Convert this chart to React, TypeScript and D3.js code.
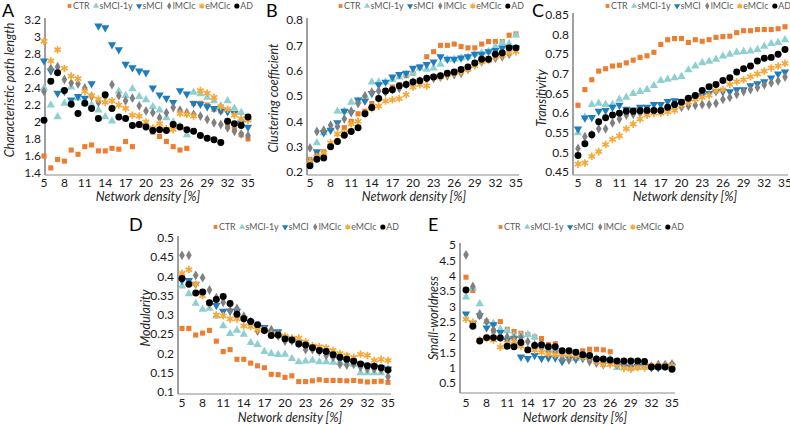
import React, { useEffect, useRef } from 'react';
import * as d3 from 'd3';

// groups, in legend / draw order (AD ends up on top)
const groups = ['CTR', 'sMCI-1y', 'sMCI', 'lMCIc', 'eMCIc', 'AD'];
const groupColors = ['#ED7D31', '#8ED0CF', '#1F7DBB', '#808080', '#F5A93A', '#000000'];

const densities = [5, 6, 7, 8, 9, 10, 11, 12, 13, 14, 15, 16, 17, 18, 19, 20, 21, 22, 23, 24, 25, 26, 27, 28, 29, 30, 31, 32, 33, 34, 35];
const densityTicks = [5, 8, 11, 14, 17, 20, 23, 26, 29, 32, 35];

// A - characteristic path length (one row per group)
const pathLength = [
  [1.60, 1.46, 1.56, 1.54, 1.67, 1.62, 1.71, 1.73, 1.66, 1.66, 1.69, 1.68, 1.77, 1.71, 1.96, 1.95, 1.88, 1.83, 1.77, 1.71, 1.67, 1.69, 2.22, 2.22, 2.20, 2.15, 2.13, 1.95, 1.91, 1.85, 1.80],
  [2.40, 2.20, 2.06, 2.22, 2.41, 2.28, 2.22, 2.20, 2.14, 2.06, 2.01, 2.36, 2.31, 2.39, 2.30, 2.26, 2.18, 2.14, 2.05, 2.00, 1.95, 1.85, 2.35, 2.33, 2.29, 2.25, 2.19, 2.25, 2.16, 2.11, 2.05],
  [2.72, 2.60, 2.34, 2.36, 2.26, 2.30, 2.28, 2.45, 3.13, 3.11, 2.91, 2.85, 2.68, 2.64, 2.60, 2.58, 2.40, 2.32, 2.28, 2.23, 2.37, 2.33, 2.22, 2.21, 2.18, 2.16, 2.13, 2.12, 2.10, 1.99, 1.94],
  [2.36, 2.63, 2.65, 2.50, 2.46, 2.45, 2.40, 2.30, 2.23, 2.30, 2.44, 2.31, 2.25, 2.28, 2.19, 2.13, 2.11, 2.05, 2.11, 2.17, 2.14, 2.11, 2.09, 2.07, 2.03, 1.99, 1.97, 1.93, 1.89, 1.86, 1.84],
  [2.95, 2.72, 2.85, 2.63, 2.54, 2.51, 2.36, 2.31, 2.27, 2.23, 2.25, 2.20, 2.16, 2.08, 2.07, 2.00, 1.93, 1.98, 1.92, 1.91, 2.10, 2.09, 2.07, 2.37, 2.34, 2.29, 2.18, 2.15, 2.08, 2.04, 2.02],
  [2.02, 2.48, 2.58, 2.37, 2.21, 2.10, 2.22, 2.16, 2.04, 2.32, 2.16, 2.06, 2.04, 1.96, 1.97, 1.94, 1.90, 1.91, 1.90, 1.97, 1.94, 1.91, 1.89, 1.84, 1.81, 1.79, 1.76, 2.01, 1.98, 1.96, 2.06],
];
const pathTicks = [1.4, 1.6, 1.8, 2, 2.2, 2.4, 2.6, 2.8, 3, 3.2];

// B - clustering coefficient
const clustering = [
  [0.25, 0.27, 0.28, 0.30, 0.32, 0.375, 0.40, 0.43, 0.44, 0.47, 0.49, 0.52, 0.535, 0.545, 0.58, 0.59, 0.615, 0.655, 0.675, 0.70, 0.70, 0.705, 0.695, 0.69, 0.69, 0.705, 0.715, 0.715, 0.715, 0.74, 0.745],
  [0.24, 0.315, 0.355, 0.37, 0.44, 0.44, 0.475, 0.48, 0.50, 0.555, 0.555, 0.555, 0.565, 0.575, 0.585, 0.59, 0.61, 0.605, 0.61, 0.625, 0.645, 0.645, 0.65, 0.655, 0.665, 0.67, 0.675, 0.695, 0.71, 0.705, 0.74],
  [0.24, 0.28, 0.355, 0.365, 0.395, 0.44, 0.435, 0.485, 0.48, 0.51, 0.545, 0.555, 0.575, 0.585, 0.59, 0.61, 0.615, 0.625, 0.635, 0.655, 0.645, 0.645, 0.65, 0.655, 0.665, 0.665, 0.675, 0.68, 0.69, 0.69, 0.69],
  [0.295, 0.36, 0.365, 0.385, 0.38, 0.41, 0.44, 0.47, 0.50, 0.515, 0.52, 0.515, 0.525, 0.53, 0.545, 0.555, 0.56, 0.565, 0.57, 0.575, 0.58, 0.585, 0.59, 0.605, 0.625, 0.635, 0.645, 0.65, 0.655, 0.665, 0.685],
  [0.24, 0.26, 0.275, 0.315, 0.35, 0.355, 0.39, 0.40, 0.43, 0.45, 0.46, 0.48, 0.485, 0.49, 0.505, 0.535, 0.545, 0.54, 0.575, 0.575, 0.585, 0.59, 0.595, 0.605, 0.62, 0.635, 0.64, 0.655, 0.66, 0.67, 0.675],
  [0.225, 0.25, 0.255, 0.30, 0.32, 0.345, 0.36, 0.375, 0.43, 0.455, 0.49, 0.52, 0.525, 0.54, 0.545, 0.555, 0.56, 0.57, 0.575, 0.58, 0.59, 0.595, 0.605, 0.615, 0.63, 0.645, 0.645, 0.665, 0.67, 0.69, 0.69],
];
const clusteringTicks = [0.2, 0.3, 0.4, 0.5, 0.6, 0.7, 0.8];

// C - transitivity
const transitivity = [
  [0.62, 0.66, 0.685, 0.707, 0.713, 0.72, 0.722, 0.728, 0.735, 0.742, 0.746, 0.755, 0.775, 0.787, 0.79, 0.79, 0.78, 0.787, 0.783, 0.787, 0.793, 0.795, 0.796, 0.805, 0.81, 0.81, 0.813, 0.813, 0.813, 0.815, 0.82],
  [0.55, 0.59, 0.622, 0.625, 0.622, 0.622, 0.635, 0.64, 0.65, 0.655, 0.66, 0.67, 0.683, 0.686, 0.69, 0.693, 0.71, 0.72, 0.728, 0.732, 0.737, 0.745, 0.75, 0.755, 0.757, 0.758, 0.762, 0.77, 0.777, 0.78, 0.787],
  [0.56, 0.588, 0.589, 0.605, 0.607, 0.615, 0.62, 0.61, 0.608, 0.615, 0.615, 0.622, 0.622, 0.63, 0.632, 0.63, 0.635, 0.64, 0.645, 0.65, 0.655, 0.655, 0.655, 0.66, 0.66, 0.67, 0.675, 0.68, 0.69, 0.70, 0.705],
  [0.51, 0.54, 0.545, 0.56, 0.56, 0.575, 0.585, 0.595, 0.597, 0.60, 0.60, 0.605, 0.605, 0.61, 0.613, 0.615, 0.618, 0.62, 0.622, 0.622, 0.625, 0.635, 0.64, 0.648, 0.655, 0.66, 0.665, 0.672, 0.677, 0.682, 0.692],
  [0.47, 0.473, 0.49, 0.502, 0.52, 0.533, 0.542, 0.56, 0.572, 0.585, 0.595, 0.60, 0.60, 0.603, 0.607, 0.62, 0.628, 0.635, 0.64, 0.645, 0.657, 0.66, 0.673, 0.68, 0.685, 0.693, 0.70, 0.707, 0.715, 0.72, 0.727],
  [0.492, 0.522, 0.545, 0.578, 0.588, 0.595, 0.60, 0.605, 0.605, 0.606, 0.607, 0.607, 0.607, 0.615, 0.622, 0.628, 0.638, 0.645, 0.658, 0.667, 0.673, 0.683, 0.69, 0.705, 0.713, 0.72, 0.733, 0.74, 0.742, 0.75, 0.762],
];
const transitivityTicks = [0.45, 0.5, 0.55, 0.6, 0.65, 0.7, 0.75, 0.8, 0.85];

// D - modularity
const modularity = [
  [0.265, 0.265, 0.248, 0.253, 0.26, 0.232, 0.205, 0.21, 0.185, 0.185, 0.175, 0.168, 0.163, 0.146, 0.145, 0.138, 0.142, 0.127, 0.127, 0.129, 0.132, 0.13, 0.13, 0.13, 0.129, 0.13, 0.128, 0.126, 0.127, 0.128, 0.125],
  [0.375, 0.355, 0.33, 0.315, 0.317, 0.297, 0.272, 0.252, 0.26, 0.25, 0.228, 0.223, 0.205, 0.20, 0.197, 0.198, 0.187, 0.178, 0.18, 0.182, 0.178, 0.178, 0.177, 0.178, 0.175, 0.172, 0.15, 0.15, 0.15, 0.15, 0.16],
  [0.39, 0.39, 0.38, 0.355, 0.33, 0.325, 0.31, 0.31, 0.31, 0.29, 0.28, 0.27, 0.268, 0.255, 0.257, 0.24, 0.235, 0.228, 0.222, 0.215, 0.208, 0.20, 0.195, 0.185, 0.18, 0.175, 0.172, 0.168, 0.165, 0.163, 0.16],
  [0.455, 0.455, 0.403, 0.397, 0.365, 0.345, 0.333, 0.312, 0.317, 0.297, 0.283, 0.258, 0.262, 0.262, 0.245, 0.232, 0.233, 0.225, 0.21, 0.21, 0.205, 0.195, 0.19, 0.172, 0.17, 0.172, 0.165, 0.16, 0.16, 0.158, 0.14],
  [0.408, 0.418, 0.38, 0.35, 0.33, 0.30, 0.298, 0.29, 0.29, 0.272, 0.27, 0.262, 0.26, 0.25, 0.25, 0.245, 0.24, 0.24, 0.23, 0.22, 0.218, 0.215, 0.208, 0.20, 0.195, 0.19, 0.198, 0.195, 0.182, 0.185, 0.182],
  [0.395, 0.38, 0.357, 0.36, 0.332, 0.34, 0.348, 0.33, 0.302, 0.29, 0.283, 0.275, 0.26, 0.247, 0.248, 0.238, 0.235, 0.225, 0.222, 0.215, 0.208, 0.205, 0.197, 0.19, 0.185, 0.18, 0.173, 0.168, 0.167, 0.163, 0.157],
];
const modularityTicks = [0.1, 0.15, 0.2, 0.25, 0.3, 0.35, 0.4, 0.45, 0.5];

// E - small-worldness
const smallWorld = [
  [3.95, 3.52, 2.68, 2.5, 2.2, 2.5, 2.25, 2.18, 2.12, 2.08, 2.0, 1.95, 1.75, 1.78, 1.55, 1.45, 1.45, 1.55, 1.6, 1.6, 1.58, 1.52, 1.2, 1.1, 1.1, 1.1, 1.05, 1.05, 1.05, 1.05, 1.1],
  [3.3, 3.6, 3.08, 2.5, 2.45, 2.25, 2.2, 2.05, 2.05, 2.08, 2.0, 1.7, 1.6, 1.6, 1.45, 1.4, 1.3, 1.35, 1.35, 1.3, 1.2, 1.3, 1.0, 1.0, 1.0, 1.0, 1.05, 1.0, 1.0, 1.05, 1.05],
  [2.75, 2.45, 2.7, 2.3, 2.4, 2.15, 1.9, 1.95, 1.35, 1.3, 1.4, 1.3, 1.32, 1.32, 1.2, 1.3, 1.28, 1.3, 1.25, 1.2, 1.2, 1.15, 1.1, 1.05, 1.0, 1.05, 1.05, 1.0, 1.0, 1.05, 1.05],
  [4.68, 3.65, 2.75, 2.5, 2.22, 2.0, 2.0, 1.95, 1.98, 1.85, 1.75, 1.65, 1.5, 1.5, 1.3, 1.25, 1.35, 1.35, 1.2, 1.15, 1.1, 1.2, 1.1, 1.1, 1.05, 1.05, 1.05, 1.05, 1.1, 1.1, 1.12],
  [2.58, 2.48, 1.9, 1.95, 1.9, 1.67, 1.8, 1.85, 1.7, 1.6, 1.57, 1.5, 1.45, 1.42, 1.45, 1.42, 1.4, 1.35, 1.35, 1.2, 1.1, 1.1, 1.1, 0.98, 0.95, 1.0, 1.0, 1.05, 1.05, 1.05, 1.05],
  [3.53, 2.35, 1.87, 1.98, 1.98, 1.97, 1.7, 1.68, 1.82, 1.58, 1.72, 1.75, 1.68, 1.68, 1.55, 1.55, 1.5, 1.42, 1.4, 1.28, 1.28, 1.25, 1.22, 1.22, 1.22, 1.22, 1.2, 1.02, 1.02, 1.02, 0.95],
];
const smallWorldTicks = [0.5, 1, 1.5, 2, 2.5, 3, 3.5, 4, 4.5, 5];

const FONT = 'Lato, "Open Sans", sans-serif';
const LEGEND_WIDTH = 186;

// layout of each panel in page pixels
const panels = [
  { letter: 'A', yTitle: 'Characteristic path length', data: pathLength, ticks: pathTicks,
    axisX: 45, x0: 44, x1: 248, yTop: 20, yBot: 173, axisY: 175, tickY: 187, titleX: 148, titleY: 201,
    legendX: 67, legendY: 6, letterX: 2, letterY: 17, yTitleX: 14, yTitleY: 90 },
  { letter: 'B', yTitle: 'Clustering coefficient', data: clustering, ticks: clusteringTicks,
    axisX: 307, x0: 310, x1: 516, yTop: 20, yBot: 172, axisY: 175, tickY: 187, titleX: 414, titleY: 201,
    legendX: 338, legendY: 6, letterX: 266, letterY: 17, yTitleX: 278, yTitleY: 98 },
  { letter: 'C', yTitle: 'Transitivity', data: transitivity, ticks: transitivityTicks,
    axisX: 573, x0: 578, x1: 785, yTop: 15, yBot: 172, axisY: 175, tickY: 187, titleX: 685, titleY: 201,
    legendX: 605, legendY: 6, letterX: 532, letterY: 17, yTitleX: 546, yTitleY: 98 },
  { letter: 'D', yTitle: 'Modularity', data: modularity, ticks: modularityTicks,
    axisX: 178, x0: 182, x1: 388, yTop: 238, yBot: 392, axisY: 394, tickY: 407, titleX: 290, titleY: 422,
    legendX: 213, legendY: 227, letterX: 129, letterY: 231, yTitleX: 150, yTitleY: 318 },
  { letter: 'E', yTitle: 'Small-worldness', data: smallWorld, ticks: smallWorldTicks,
    axisX: 460, x0: 466, x1: 672, yTop: 245, yBot: 383, axisY: 393, tickY: 407, titleX: 575, titleY: 422,
    legendX: 498, legendY: 227, letterX: 428, letterY: 231, yTitleX: 438, yTitleY: 318 },
];

const shapes = [d3.symbolSquare, d3.symbolTriangle, d3.symbolTriangle, d3.symbolDiamond, d3.symbolAsterisk, d3.symbolCircle];
const shapeSizes = [26, 30, 30, 28, 40, 38];

function addMarker(g: any, i: number, x: number, y: number, scale = 1) {
  const path = d3.symbol().type(shapes[i]).size(shapeSizes[i] * scale)();
  const rot = i === 2 ? ' rotate(180)' : '';
  const m = g.append('path')
    .attr('d', path)
    .attr('transform', `translate(${x},${y})${rot}`);
  if (i === 4) {
    m.attr('fill', 'none').attr('stroke', groupColors[i]).attr('stroke-width', 1.7 * Math.sqrt(scale));
    g.append('circle').attr('cx', x).attr('cy', y).attr('r', 1.6 * Math.sqrt(scale)).attr('fill', groupColors[i]);
  } else {
    m.attr('fill', groupColors[i]);
  }
}

function drawPanel(svg: any, p: any) {
  const g = svg.append('g');
  const x = d3.scaleLinear().domain([5, 35]).range([p.x0, p.x1]);
  const tMin = p.ticks[0];
  const tMax = p.ticks[p.ticks.length - 1];
  const y = d3.scaleLinear().domain([tMin, tMax]).range([p.yBot, p.yTop]);

  // axes
  g.append('line')
    .attr('x1', p.axisX).attr('x2', p.axisX)
    .attr('y1', p.yTop - 2).attr('y2', p.axisY)
    .attr('stroke', '#404040').attr('stroke-width', 1);
  g.append('line')
    .attr('x1', p.axisX).attr('x2', p.x1 + 3)
    .attr('y1', p.axisY).attr('y2', p.axisY)
    .attr('stroke', '#8c8c8c').attr('stroke-width', 1.2);

  g.selectAll('text.ytick')
    .data(p.ticks)
    .enter()
    .append('text')
      .attr('x', p.axisX - 4)
      .attr('y', (d: number) => y(d))
      .attr('dy', '0.35em')
      .attr('text-anchor', 'end')
      .style('font', `12px ${FONT}`)
      .attr('fill', '#1a1a1a')
      .text((d: number) => String(+d.toFixed(2)));

  g.selectAll('text.xtick')
    .data(densityTicks)
    .enter()
    .append('text')
      .attr('x', (d: number) => x(d))
      .attr('y', p.tickY)
      .attr('text-anchor', 'middle')
      .style('font', `12px ${FONT}`)
      .attr('fill', '#1a1a1a')
      .text((d: number) => d);

  g.append('text')
    .attr('x', p.titleX).attr('y', p.titleY)
    .attr('text-anchor', 'middle')
    .style('font', `italic 12.5px ${FONT}`)
    .attr('fill', '#262626')
    .text('Network density [%]');

  g.append('text')
    .attr('transform', `translate(${p.yTitleX},${p.yTitleY}) rotate(-90)`)
    .attr('text-anchor', 'middle')
    .style('font', `italic 12.5px ${FONT}`)
    .attr('fill', '#262626')
    .text(p.yTitle);

  g.append('text')
    .attr('x', p.letterX).attr('y', p.letterY)
    .style('font', `18px ${FONT}`)
    .attr('fill', '#000')
    .text(p.letter);

  // points
  groups.forEach((_, gi) => {
    const layer = g.append('g');
    p.data[gi].forEach((v: number, k: number) => {
      addMarker(layer, gi, x(densities[k]), y(v));
    });
  });

  // legend: measure the labels, then spread the entries evenly over LEGEND_WIDTH
  const leg = g.append('g');
  const labels = groups.map(name => leg.append('text')
    .attr('y', p.legendY)
    .attr('dy', '0.35em')
    .style('font', `8.8px ${FONT}`)
    .attr('fill', '#595959')
    .text(name));
  const widths = labels.map((t: any) => (t.node() as SVGTextElement).getComputedTextLength());
  const used = d3.sum(widths) + groups.length * 6;
  const gap = Math.max(1.5, (LEGEND_WIDTH - used) / (groups.length - 1));
  let lx = p.legendX;
  groups.forEach((_, gi) => {
    addMarker(leg, gi, lx + 2.5, p.legendY, 0.55);
    labels[gi].attr('x', lx + 6);
    lx += 6 + widths[gi] + gap;
  });
}

export default function App() {
  const svgRef = useRef<SVGSVGElement>(null);

  useEffect(() => {
    const svg = d3.select(svgRef.current);
    svg.selectAll('*').remove();
    panels.forEach(p => drawPanel(svg, p));
  }, []);

  return (
    <svg ref={svgRef} width={790} height={424}
      style={{ position: 'absolute', left: 0, top: 0, background: '#fff' }} />
  );
}
